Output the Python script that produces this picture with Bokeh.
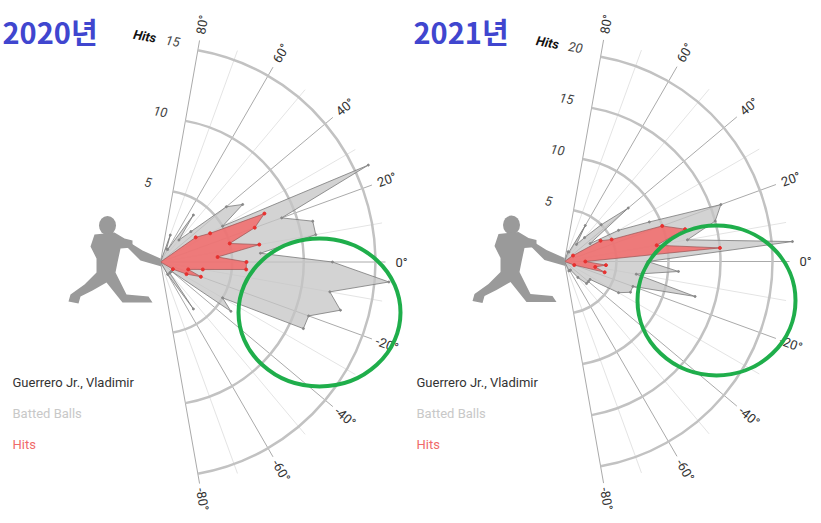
import numpy as np
from bokeh.plotting import figure
from bokeh.layouts import row
from bokeh.models import Range1d
from bokeh.core.properties import value
from bokeh.embed import file_html
from bokeh.resources import INLINE

# ---------------- data ----------------
angles = [80, 75, 70, 65, 60, 55, 50, 45, 40, 35, 30, 25, 20, 15, 10, 5, 0,
          -5, -10, -15, -20, -25, -30, -35, -40, -45, -50, -55, -60, -65, -70, -75, -80]

batted_2020 = [0, 0, 2, 1, 1, 4, 2, 3, 6, 7, 5, 16, 9, 11, 11, 7, 12,
               16, 12, 13, 11, 11, 5, 6, 1, 1, 1, 4, 1, 0, 0, 0, 0]
hits_2020 = [0, 0, 0, 0, 0, 0, 0, 0, 0, 3, 4, 8, 7, 5, 7, 4, 6,
             6, 3, 2, 3, 2, 1, 0, 0, 0, 0, 0, 0, 0, 0, 0, 0]

batted_2021 = [0, 0, 1, 1, 4, 2, 3, 5, 8, 3, 6, 9, 16, 15, 12, 22, 8,
               11, 7, 13, 7, 7, 6, 3, 3, 3, 2, 1, 1, 1, 0, 0, 0]
hits_2021 = [0, 0, 0, 0, 0, 0, 0, 0, 0, 1, 4, 5, 10, 12, 9, 15, 2,
             4, 3, 4, 1, 0, 0, 0, 0, 0, 0, 0, 0, 0, 0, 0, 0]

ticks_2020 = [5, 10, 15]
ticks_2021 = [5, 10, 15, 20]
grid_angles = list(range(-80, 81, 10))
angle_labels = [80, 60, 40, 20, 0, -20, -40, -60, -80]

titles = ["2020년", "2021년"]
player = "Guerrero Jr., Vladimir"
legend_batted = "Batted Balls"
legend_hits = "Hits"
axis_title = "Hits"

# batter silhouette (decoration), pixel offsets from the chart origin
head_px = (-53, 36.5)
body_px = [(-66, 27.5), (-46, 29.5), (-36, 23.5), (-28, 21.5), (-28, 14.5), (-40, 13.5), (-43, -0.5),
           (-45, -10.5), (-40, -20.5), (-34, -32.5), (-12, -34.5), (-8, -40.5), (-38, -40.5),
           (-46, -30.5), (-54, -20.5), (-68, -28.5), (-80, -34.5), (-82, -41.5), (-92, -39.5),
           (-90, -32.5), (-76, -22.5), (-64, -10.5), (-64, 3.5), (-70, 15.5)]
bat_px = [(-34, 21.5), (-18, 11.5), (0, 3.5), (1, -4.5), (-20, 1.5), (-34, 15.5)]

H = 520
TOP = 0


def panel(width, left_px, cx, cy, s, ticks, batted, hits, title, ell, title_x, legend_x):
    p = figure(width=width, height=H,
               x_range=Range1d((left_px - cx) / s, (left_px + width - cx) / s),
               y_range=Range1d((cy - TOP - H) / s, (cy - TOP) / s),
               output_backend="svg", toolbar_location=None, min_border=0,
               x_axis_location=None, y_axis_location=None)
    p.outline_line_color = None
    p.grid.visible = False
    p.background_fill_color = "white"

    def d(xp, yp):
        return (xp - cx) / s, (cy - yp) / s

    line_r = 225 / s
    lab_r = 241 / s
    th = np.radians(grid_angles)
    major = [a % 20 == 0 for a in grid_angles]
    mx = [line_r * np.cos(t) for t, m in zip(th, major) if not m]
    my = [line_r * np.sin(t) for t, m in zip(th, major) if not m]
    p.segment(x0=0, y0=0, x1=mx, y1=my, line_color="#e4e4e4", line_width=1)
    Mx = [line_r * np.cos(t) for t, m in zip(th, major) if m]
    My = [line_r * np.sin(t) for t, m in zip(th, major) if m]
    p.segment(x0=0, y0=0, x1=Mx, y1=My, line_color="#aaaaaa", line_width=1)

    p.arc(x=0, y=0, radius=ticks, start_angle=np.radians(-80), end_angle=np.radians(80),
          line_color="#c2c2c2", line_width=2.5)

    # batted balls polygon
    a = np.radians(angles)
    bx = [0] + list(np.array(batted) * np.cos(a)) + [0]
    by = [0] + list(np.array(batted) * np.sin(a)) + [0]
    p.patch(bx, by, fill_color="#c4c4c4", fill_alpha=0.75, line_color="#7a7a7a", line_width=0.8)
    nz = [i for i, v in enumerate(batted) if v > 0]
    p.scatter([bx[i + 1] for i in nz], [by[i + 1] for i in nz], size=2, color="#888888")

    hx = [0] + list(np.array(hits) * np.cos(a)) + [0]
    hy = [0] + list(np.array(hits) * np.sin(a)) + [0]
    p.patch(hx, hy, fill_color="#f26a6a", fill_alpha=0.85, line_color="#9a5555", line_width=0.7)
    nzh = [i for i, v in enumerate(hits) if v > 0]
    p.scatter([hx[i + 1] for i in nzh], [hy[i + 1] for i in nzh], size=3, color="#e8302e")

    # angle labels
    la = np.radians(angle_labels)
    p.text(x=list(lab_r * np.cos(la)), y=list(lab_r * np.sin(la)),
           text=[f"{v}°" for v in angle_labels], angle=list(la),
           text_align="center", text_baseline="middle", text_font=value("Roboto"),
           text_font_size="13px", text_color="#333333")

    # radial tick labels
    t80 = np.radians(80)
    tx = [r * np.cos(t80) - 25 / s for r in ticks]
    ty = [r * np.sin(t80) + 9 / s for r in ticks]
    p.text(x=tx, y=ty, text=[str(t) for t in ticks], angle=np.radians(-10),
           text_align="center", text_baseline="middle", text_font=value("Roboto"),
           text_font_style="italic", text_font_size="13px", text_color="#444444")
    p.text(x=[tx[-1] - 28 / s], y=[ty[-1] + 5 / s], text=[axis_title], angle=np.radians(-10),
           text_align="center", text_baseline="middle", text_font=value("Roboto"),
           text_font_style="bold italic", text_font_size="13px", text_color="#111111")

    # silhouette
    hxp, hyp = head_px
    p.ellipse(x=[hxp / s], y=[hyp / s], width=17 / s, height=19 / s, fill_color="#9a9a9a", line_color=None)
    p.patch([q[0] / s for q in body_px], [q[1] / s for q in body_px], fill_color="#9a9a9a", line_color=None)
    p.patch([q[0] / s for q in bat_px], [q[1] / s for q in bat_px], fill_color="#9a9a9a", line_color=None)

    # title
    x0, y0 = d(title_x, 30)
    p.text(x=[x0], y=[y0], text=[title], text_align="left", text_baseline="middle",
           text_font=value("Noto Sans CJK KR"), text_font_style="bold", text_font_size="29px",
           text_color="#4046cf")

    # legend texts
    for txt, yy, col in [(player, 382, "#333333"), (legend_batted, 413, "#c8c8c8"), (legend_hits, 444, "#f06a6a")]:
        xx, yv = d(legend_x, yy)
        p.text(x=[xx], y=[yv], text=[txt], text_align="left", text_baseline="middle",
               text_font=value("Roboto"), text_font_size="13px", text_color=col)

    # green highlight ellipse
    ex, ey = d(ell[0], ell[1])
    p.ellipse(x=[ex], y=[ey], width=ell[2] / s, height=ell[3] / s, fill_alpha=0,
              line_color="#1fae4b", line_width=4)
    return p


p1 = panel(412, 0, 160, 261.5, 14.33, ticks_2020, batted_2020, hits_2020, titles[0],
           (319, 312, 162, 148), 2, 12)
p2 = panel(408, 412, 564, 261, 10.4, ticks_2021, batted_2021, hits_2021, titles[1],
           (716, 300, 158, 150), 413, 416)

layout = row(p1, p2)
open("out.html", "w").write(file_html(layout, INLINE))
